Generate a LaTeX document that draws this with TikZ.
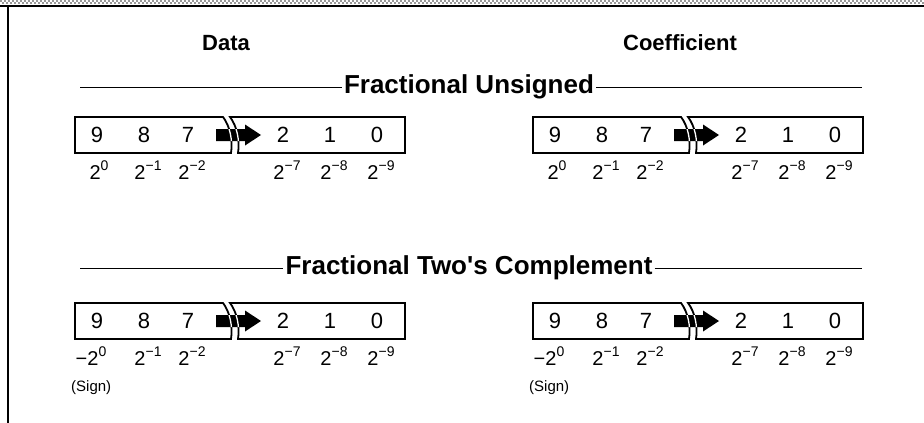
\documentclass[tikz,border=0pt]{standalone}
\usepackage{fontspec}
\setmainfont{Liberation Sans}[Ligatures=TeXOff]
\newcommand\pwr[1]{2\raisebox{0.45em}{\fontsize{14}{14}\selectfont #1}}
\begin{document}
\begin{tikzpicture}[x=1pt,y=-1pt]
\tikzset{
  hdr/.style={font=\bfseries\fontsize{22}{26}\selectfont, inner sep=0pt},
  sec/.style={font=\bfseries\fontsize{26}{30}\selectfont, inner sep=2pt},
  dig/.style={font=\fontsize{22}{25}\selectfont, inner sep=0pt},
  pw/.style={font=\fontsize{20}{23}\selectfont, inner sep=0pt},
  sgn/.style={font=\fontsize{15}{18}\selectfont, inner sep=0pt},
  boxline/.style={line width=1.8pt},
  rule/.style={line width=0.9pt},
}
\useasboundingbox (0,0) rectangle (924,423);
\fill[white] (0,0) rectangle (924,423);
% top band
\foreach \i in {0,...,231} {
  \fill[gray!80] (4*\i,0) rectangle ++(2,2);
  \fill[gray!80] (4*\i+2,2) rectangle ++(2,2);
}
\fill (0,4.5) rectangle (924,7);
\fill (6.5,4.5) rectangle (9,423);

% headers
\node[hdr] (data) at (226,43) {Data};
\node[hdr] (coef) at (680,43) {Coefficient};

% section headings
\node[sec] (s1) at (469,87) {Fractional Unsigned};
\coordinate (s1l) at (80,87);
\coordinate (s1r) at (862,87);
\draw[rule] (s1l) -- (s1.west);
\draw[rule] (s1.east) -- (s1r);

\node[sec] (s2) at (469,268) {Fractional Two's Complement};
\coordinate (s2l) at (80,268);
\coordinate (s2r) at (862,268);
\draw[rule] (s2l) -- (s2.west);
\draw[rule] (s2.east) -- (s2r);

% bit boxes
\newcommand\bitbox[4]{% #1 left x, #2 top y, #3 name prefix, #4 signed (1/0)
\begin{scope}[shift={(#1,#2)}]
  \draw[boxline] (0,0) -- (148,0) .. controls (155,9) and (158,24) .. (156,36) -- (0,36) -- cycle;
  \draw[boxline] (155,0) .. controls (162,9) and (165,24) .. (163,36) -- (330,36) -- (330,0) -- cycle;
  \path[fill=black] (141,12) -- (170,12) -- (170,7.5) -- (186,18) -- (170,28.5) -- (170,24) -- (141,24) -- cycle;
  \begin{scope}
    \clip (141,12) -- (170,12) -- (170,7.5) -- (186,18) -- (170,28.5) -- (170,24) -- (141,24) -- cycle;
    \draw[white, line width=1.3pt] (148,0) .. controls (155,9) and (158,24) .. (156,36);
    \draw[white, line width=1.3pt] (155,0) .. controls (162,9) and (165,24) .. (163,36);
  \end{scope}
  \node[dig] (#3d9) at (22,18) {9};
  \node[dig] (#3d8) at (69,18) {8};
  \node[dig] (#3d7) at (113,18) {7};
  \node[dig] (#3d2) at (208,18) {2};
  \node[dig] (#3d1) at (255,18) {1};
  \node[dig] (#3d0) at (302,18) {0};
  \ifnum#4=1
    \node[pw] (#3p9) at (16,53) {−\pwr{0}};
    \node[sgn, anchor=west] (#3sg) at (-4,85) {(Sign)};
  \else
    \node[pw] (#3p9) at (24,53) {\pwr{0}};
  \fi
  \node[pw] (#3p8) at (73,53) {\pwr{−1}};
  \node[pw] (#3p7) at (117,53) {\pwr{−2}};
  \node[pw] (#3p2) at (212,53) {\pwr{−7}};
  \node[pw] (#3p1) at (259,53) {\pwr{−8}};
  \node[pw] (#3p0) at (306,53) {\pwr{−9}};
\end{scope}}

\bitbox{75}{117}{a}{0}
\bitbox{533}{117}{b}{0}
\bitbox{75}{303}{c}{1}
\bitbox{533}{303}{e}{1}
\end{tikzpicture}
\end{document}
